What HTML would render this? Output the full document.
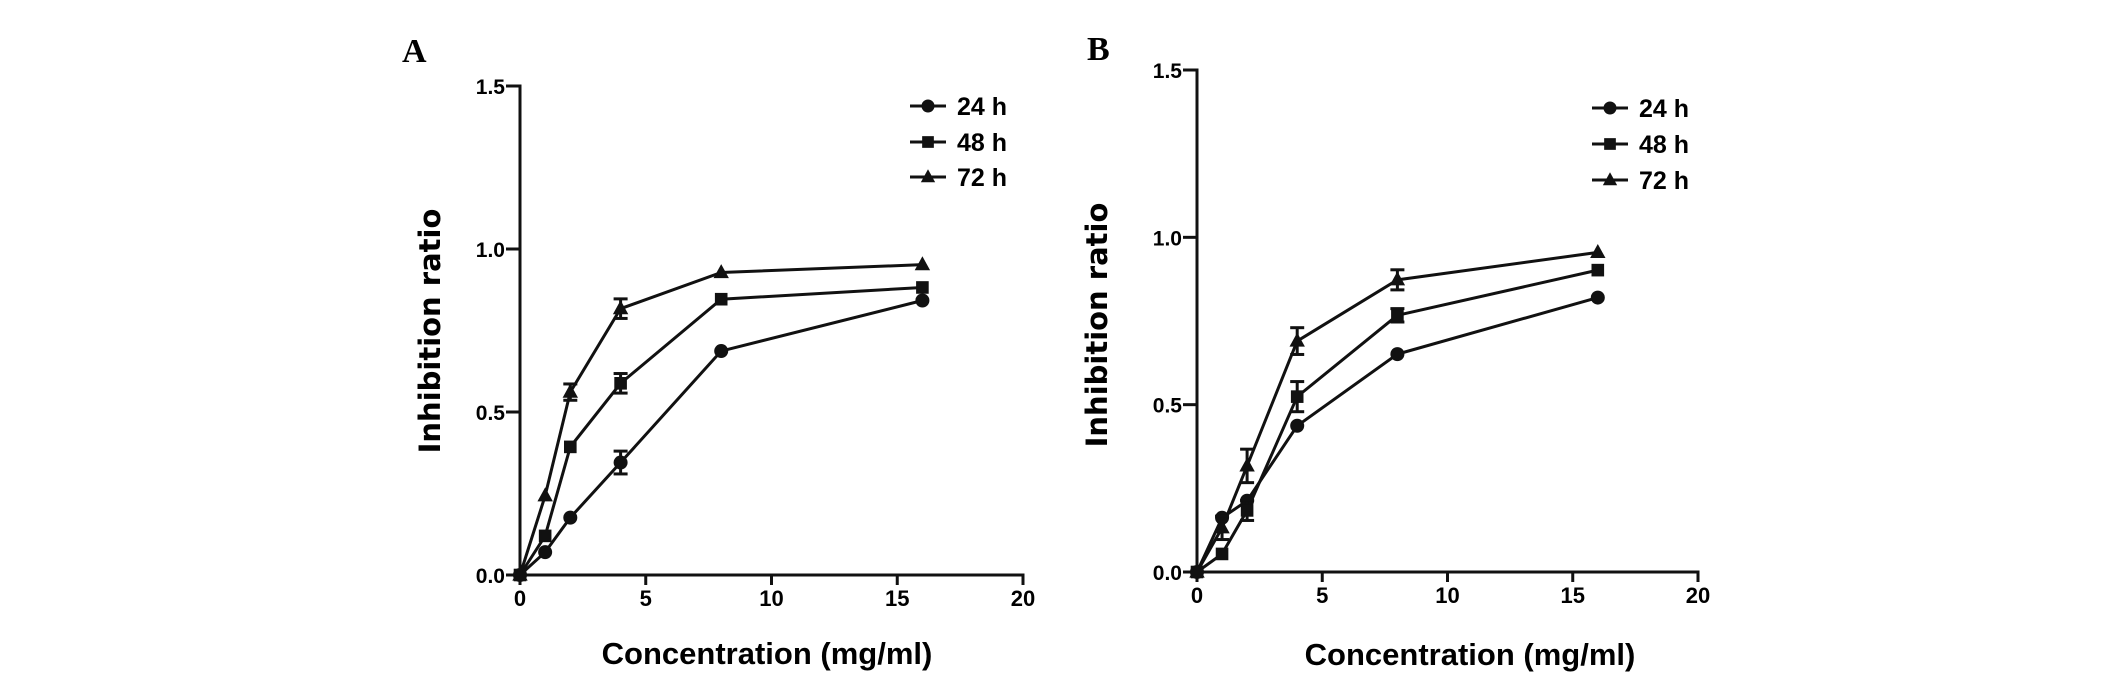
<!DOCTYPE html>
<html><head><meta charset="utf-8"><style>
html,body{margin:0;padding:0;background:#fff;}
svg{display:block;}
.tick{font-family:"Liberation Sans",sans-serif;font-weight:bold;font-size:22px;}
.ytick{font-family:"Liberation Sans",sans-serif;font-weight:bold;font-size:21px;}
.title{font-family:"DejaVu Sans","Liberation Sans",sans-serif;font-weight:bold;font-size:29px;}
.xtitle{font-family:"Liberation Sans",sans-serif;font-weight:bold;font-size:31px;}
.leg{font-family:"Liberation Sans",sans-serif;font-weight:bold;font-size:25px;}
.panel{font-family:"Liberation Serif",serif;font-weight:bold;font-size:34px;}
</style></head><body>
<svg id="chart" width="2126" height="676" viewBox="0 0 2126 676" xmlns="http://www.w3.org/2000/svg"></svg>
<script>
const concentrations=[0,1,2,4,8,16];
const seriesNames=["24 h","48 h","72 h"];
const markerShapes=["circle","square","triangle"];
const xTicks=[0,5,10,15,20];
const yTicks=[0,0.5,1.0,1.5];
const yTickLabels=["0.0","0.5","1.0","1.5"];
const a24=[0,0.07,0.176,0.345,0.687,0.842];
const a48=[0,0.12,0.393,0.588,0.846,0.882];
const a72=[0,0.243,0.561,0.817,0.928,0.952];
const a24err=[0,0,0,0.035,0,0];
const a48err=[0,0,0,0.03,0,0];
const a72err=[0,0,0.025,0.03,0,0];
const b24=[0,0.162,0.213,0.437,0.651,0.82];
const b48=[0,0.054,0.184,0.524,0.767,0.902];
const b72=[0,0.132,0.317,0.69,0.873,0.955];
const b24err=[0,0,0,0,0,0];
const b48err=[0,0,0.03,0.045,0.02,0];
const b72err=[0,0.035,0.05,0.04,0.03,0];

const NS="http://www.w3.org/2000/svg";
const svg=document.getElementById('chart');
function el(t,a,p){const e=document.createElementNS(NS,t);for(const k in a)e.setAttribute(k,a[k]);(p||svg).appendChild(e);return e;}

function marker(g,shape,cx,cy,s){
  let m;
  if(shape==="circle")m=el('circle',{cx:cx,cy:cy,r:s*0.5,fill:'#111'},g);
  else if(shape==="square")m=el('rect',{x:cx-s*0.45,y:cy-s*0.45,width:s*0.9,height:s*0.9,fill:'#111'},g);
  else m=el('polygon',{points:`${cx},${cy-s*0.6} ${cx+s*0.55},${cy+s*0.4} ${cx-s*0.55},${cy+s*0.4}`,fill:'#111'},g);
  return m;
}

function panel(cfg){
  const X=v=>cfg.x0+(cfg.x20-cfg.x0)*v/20;
  const Y=v=>cfg.y0+(cfg.y15-cfg.y0)*v/1.5;
  const g=el('g',{});
  
  
  const lbl=el('text',{x:cfg.lx,y:cfg.ly,class:'panel'},g);lbl.textContent=cfg.label;
  
  
  const ax=el('g',{},g);
  
  
  el('line',{x1:X(0),y1:Y(0),x2:X(0),y2:Y(1.5)-1.5,stroke:'#111','stroke-width':3},ax);
  el('line',{x1:X(0)-1.5,y1:Y(0),x2:X(20)+1.5,y2:Y(0),stroke:'#111','stroke-width':3},ax);
  xTicks.forEach(t=>{
    el('line',{x1:X(t),y1:Y(0),x2:X(t),y2:Y(0)+10,stroke:'#111','stroke-width':3},ax);
    const tx=el('text',{x:X(t),y:Y(0)+31,class:'tick','text-anchor':'middle'},ax);tx.textContent=t;
    
    
  });
  yTicks.forEach((t,i)=>{
    el('line',{x1:X(0),y1:Y(t),x2:X(0)-14,y2:Y(t),stroke:'#111','stroke-width':3},ax);
    const ty=el('text',{x:X(0)-15,y:Y(t)+8,class:'ytick','text-anchor':'end'},ax);ty.textContent=yTickLabels[i];
    
    
  });
  const yt=el('text',{x:0,y:0,class:'title','text-anchor':'middle',transform:`translate(${cfg.ytx},${cfg.yty}) rotate(-90)`},g);
  yt.textContent='Inhibition ratio';
  
  
  const xt=el('text',{x:cfg.xtx,y:cfg.xty,class:'xtitle','text-anchor':'middle'},g);
  xt.textContent='Concentration (mg/ml)';
  
  
  cfg.series.forEach((vals,si)=>{
    const sg=el('g',{},g);
    
    
    el('polyline',{points:concentrations.map((c,i)=>X(c)+','+Y(vals[i])).join(' '),fill:'none',stroke:'#111','stroke-width':3},sg);
    concentrations.forEach((c,i)=>{
      const e=cfg.errs[si][i];
      if(e>0){
        const x=X(c);
        el('line',{x1:x,y1:Y(vals[i]+e),x2:x,y2:Y(vals[i]-e),stroke:'#111','stroke-width':3},sg);
        el('line',{x1:x-7,y1:Y(vals[i]+e),x2:x+7,y2:Y(vals[i]+e),stroke:'#111','stroke-width':3},sg);
        el('line',{x1:x-7,y1:Y(vals[i]-e),x2:x+7,y2:Y(vals[i]-e),stroke:'#111','stroke-width':3},sg);
      }
      const m=marker(sg,markerShapes[si],X(c),Y(vals[i]),14);
      
      
    });
  });
  const lg=el('g',{},g);
  
  
  seriesNames.forEach((n,i)=>{
    const y=cfg.legY[i];
    const eg=el('g',{},lg);
    
    
    el('line',{x1:cfg.legX,y1:y,x2:cfg.legX+36,y2:y,stroke:'#111','stroke-width':3},eg);
    marker(eg,markerShapes[i],cfg.legX+18,y,13);
    const t=el('text',{x:cfg.legX+47,y:y+9,class:'leg'},eg);t.textContent=n;
  });
}
panel({name:'panel-a',label:'A',lx:402,ly:62,x0:520,x20:1023,y0:575,y15:86,
  series:[a24,a48,a72],errs:[a24err,a48err,a72err],ytx:440,yty:331,xtx:767,xty:664,legX:910,legY:[106,142,177]});
panel({name:'panel-b',label:'B',lx:1087,ly:60,x0:1197,x20:1698,y0:572,y15:70,
  series:[b24,b48,b72],errs:[b24err,b48err,b72err],ytx:1107,yty:325,xtx:1470,xty:665,legX:1592,legY:[108,144,180]});
</script>
</body></html>
